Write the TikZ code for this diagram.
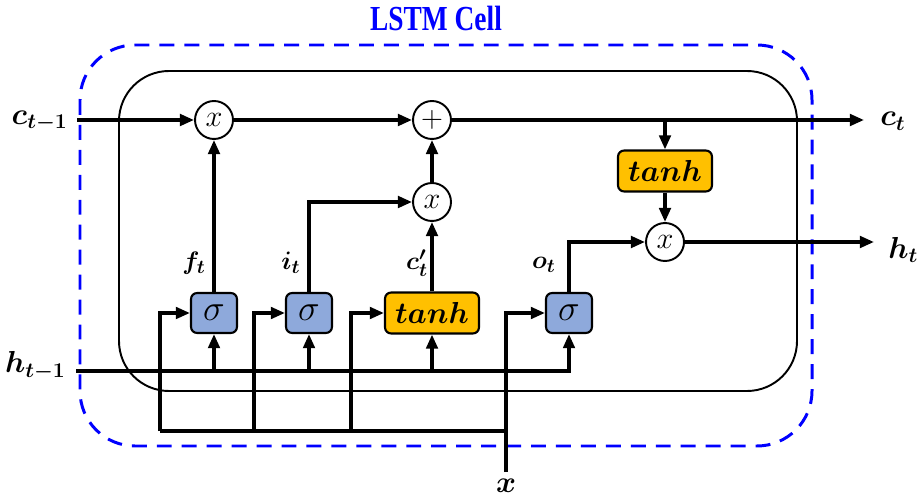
\documentclass[tikz,border=0pt]{standalone}
\usepackage{fontspec}
\usepackage{amsmath}
\usepackage{bm}
\setmainfont{Liberation Serif}
\usetikzlibrary{arrows.meta}
\definecolor{gateblue}{HTML}{8EA9DB}
\definecolor{gategold}{HTML}{FFC000}
\definecolor{titleblue}{HTML}{0000FF}
\begin{document}
\begin{tikzpicture}[x=0.02cm,y=-0.02cm,
  wire/.style={line width=1.9pt},
  arr/.style={wire,-{Triangle[length=8pt,width=6.5pt]}},
  opcirc/.style={circle,draw,line width=1.1pt,fill=white,minimum size=0.76cm,inner sep=0pt,font=\fontsize{19}{21}\selectfont},
  sigbox/.style={draw,line width=1.2pt,fill=gateblue,rounded corners=3.5pt,minimum width=0.92cm,minimum height=0.8cm,inner sep=0pt,font=\fontsize{21}{23}\selectfont},
  tanhbox/.style={draw,line width=1.2pt,fill=gategold,rounded corners=3.5pt,minimum width=1.88cm,minimum height=0.82cm,inner sep=0pt,font=\fontsize{16.5}{18}\selectfont},
  iolab/.style={font=\fontsize{17}{19}\selectfont,inner sep=0pt},
  gatelab/.style={font=\fontsize{15}{17}\selectfont,inner sep=0pt}]
\useasboundingbox (0,0) rectangle (919,496);
% title
\node[text=titleblue,font=\fontsize{20}{22}\selectfont\bfseries] (title) at (436,18) {\scalebox{0.78}[1]{LSTM Cell}};
% outer dashed and inner boxes
\draw[titleblue,line width=1.7pt,dash pattern=on 8.5pt off 5.7pt,rounded corners=1.1cm] (80,45) rectangle (812,446);
\draw[line width=1.1pt,rounded corners=1cm] (119,71) rectangle (797,391);
% operator nodes
\node[opcirc] (mf) at (214,120) {$x$};
\node[opcirc] (plus) at (432,120) {$+$};
\node[opcirc] (mi) at (432,202) {$x$};
\node[tanhbox] (tct) at (665,171) {$\bm{tanh}$};
\node[opcirc] (mo) at (665,242) {$x$};
\node[sigbox] (sf) at (214,313) {$\sigma$};
\node[sigbox] (si) at (309,313) {$\sigma$};
\node[tanhbox] (tc) at (432,313) {$\bm{tanh}$};
\node[sigbox] (so) at (569,313) {$\sigma$};
% terminals
\coordinate (cin) at (77,120);
\coordinate (ct) at (864,120);
\coordinate (hin) at (76,371);
\coordinate (ht) at (874,242);
\coordinate (xin) at (506,472);
\coordinate (b1) at (160,431);
\coordinate (b2) at (254,431);
\coordinate (b3) at (351,431);
% labels
\node[iolab,anchor=east] (lcin) at (68,121) {$\bm{c_{t-1}}$};
\node[iolab,anchor=east] (lhin) at (66,366) {$\bm{h_{t-1}}$};
\node[iolab,anchor=west] (lct) at (880,121) {$\bm{c_{t}}$};
\node[iolab,anchor=west] (lht) at (888,250) {$\bm{h_{t}}$};
\node[iolab] (lx) at (506,486) {$\bm{x}$};
\node[gatelab] (lf) at (194,263) {$\bm{f_t}$};
\node[gatelab] (li) at (291,263) {$\bm{i_t}$};
\node[gatelab] (lc) at (417,263) {$\bm{c'_t}$};
\node[gatelab] (lo) at (544,265) {$\bm{o_t}$};
% cell state path
\draw[arr] (cin) -- (mf.west);
\draw[arr] (mf.east) -- (plus.west);
\draw[arr] (plus.east) -- (ct);
\draw[arr] (sf.north) -- (mf.south);
\draw[arr] (si.north) |- (mi.west);
\draw[arr] (tc.north) -- (mi.south);
\draw[arr] (mi.north) -- (plus.south);
\draw[arr] (tct.north |- plus.east) -- (tct.north);
\draw[arr] (tct.south) -- (mo.north);
\draw[arr] (so.north) |- (mo.west);
\draw[arr] (mo.east) -- (ht);
% hidden input
\draw[arr] (hin) -| (so.south);
\draw[arr] (sf.south |- hin) -- (sf.south);
\draw[arr] (si.south |- hin) -- (si.south);
\draw[arr] (tc.south |- hin) -- (tc.south);
% x input
\draw[arr] (xin) |- (so.west);
\draw[wire] (b1) -- (xin |- b1);
\draw[arr] (b1) |- (sf.west);
\draw[arr] (b2) |- (si.west);
\draw[arr] (b3) |- (tc.west);
\end{tikzpicture}
\end{document}
